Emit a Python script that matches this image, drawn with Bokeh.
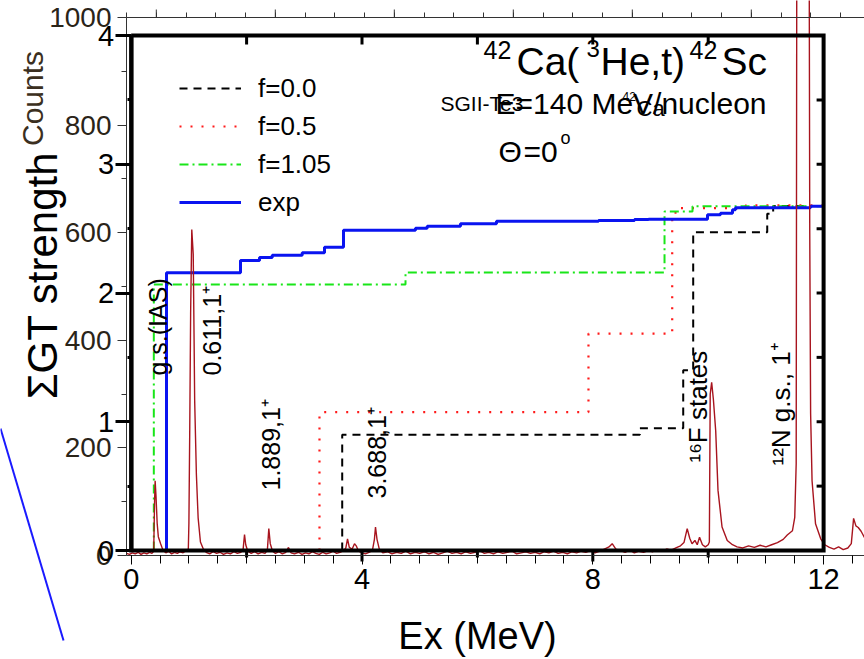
import math
from bokeh.plotting import figure
from bokeh.models import Range1d, LinearAxis, FixedTicker, Label, Legend, LegendItem
from bokeh.embed import file_html
from bokeh.resources import INLINE

# ---------------- data ----------------
# measured spectrum (counts vs excitation energy)
spec_e = [-0.08, -0.03, 0.02, 0.07, 0.12, 0.17, 0.22, 0.27, 0.32, 0.36, 0.39, 0.405, 0.415, 0.43, 0.45, 0.47,
          0.51, 0.55, 0.6, 0.65, 0.7, 0.75, 0.8, 0.85, 0.9, 0.95, 0.99, 1.0, 1.015, 1.03, 1.05, 1.075, 1.09, 1.1,
          1.13, 1.16, 1.2, 1.25, 1.3, 1.36, 1.42, 1.48, 1.54, 1.6, 1.66, 1.72, 1.78, 1.84, 1.9, 1.94, 1.964,
          1.985, 2.02, 2.08, 2.14, 2.2, 2.26, 2.32, 2.36, 2.385, 2.41, 2.45, 2.5, 2.56, 2.62, 2.68, 2.726, 2.77,
          2.83, 2.9, 2.96, 3.02, 3.08, 3.14, 3.2, 3.26, 3.32, 3.38, 3.44, 3.5, 3.56, 3.62, 3.68, 3.72, 3.749,
          3.78, 3.83, 3.87, 3.9, 3.94, 4.0, 4.06, 4.12, 4.18, 4.215, 4.234, 4.26, 4.3, 4.36, 4.44, 4.52, 4.6,
          4.68, 4.76, 4.84, 4.92, 5.0, 5.08, 5.16, 5.24, 5.32, 5.4, 5.48, 5.56, 5.64, 5.72, 5.8, 5.88, 5.96,
          6.04, 6.12, 6.2, 6.28, 6.36, 6.44, 6.52, 6.6, 6.68, 6.76, 6.84, 6.92, 7.0, 7.08, 7.16, 7.24, 7.32,
          7.4, 7.48, 7.56, 7.64, 7.72, 7.8, 7.88, 7.96, 8.04, 8.12, 8.2, 8.28, 8.336, 8.4, 8.48, 8.56, 8.64,
          8.72, 8.8, 8.88, 8.96, 9.04, 9.12, 9.2, 9.28, 9.36, 9.44, 9.52, 9.58, 9.636, 9.68, 9.72, 9.77, 9.81,
          9.85, 9.9, 9.95, 10.0, 10.02, 10.035, 10.06, 10.09, 10.13, 10.17, 10.24, 10.33, 10.42, 10.5, 10.6,
          10.7, 10.8, 10.9, 11.0, 11.1, 11.2, 11.3, 11.37, 11.46, 11.5, 11.525, 11.535, 11.55, 11.65, 11.745,
          11.76, 11.775, 11.8, 11.86, 11.95, 12.02, 12.1, 12.18, 12.26, 12.34, 12.42, 12.48, 12.52, 12.56,
          12.6, 12.65, 12.71]
spec_counts = [4, 2, 5, 3, 6, 2, 5, 3, 6, 4, 8, 100, 139, 110, 60, 35,
               22, 10, 5, 8, 3, 6, 4, 7, 5, 9, 12, 60, 238, 450, 606, 560, 400, 288,
               150, 70, 25, 12, 6, 3, 7, 4, 6, 2, 5, 3, 7, 4, 6, 12, 39,
               20, 8, 4, 7, 3, 6, 4, 10, 50, 22, 8, 4, 7, 3, 6, 15, 5,
               3, 6, 2, 5, 3, 7, 4, 2, 6, 3, 5, 8, 4, 6, 9, 14, 31,
               15, 12, 22, 18, 8, 5, 3, 6, 9, 30, 53, 30, 12, 5, 7, 3, 6,
               4, 8, 3, 6, 4, 7, 3, 6, 2, 5, 8, 4, 6, 3, 7, 4, 6,
               9, 4, 6, 3, 7, 4, 6, 8, 3, 5, 7, 4, 6, 3, 7, 5, 8,
               4, 6, 3, 7, 5, 8, 6, 9, 5, 8, 12, 16, 22, 12, 9, 6, 10,
               5, 8, 6, 9, 7, 11, 8, 12, 10, 14, 18, 24, 50, 32, 22, 28, 20,
               34, 20, 16, 20, 25, 300, 322, 290, 232, 121, 53, 28, 20, 16, 14,
               18, 15, 19, 16, 20, 24, 30, 38, 46, 71, 171, 1100, 1500, 1700, 1400,
               600, 264, 139, 59, 31, 20, 15, 12, 16, 11, 14, 22, 69, 55,
               52, 45, 33]

# running sum of GT strength: energy where each step starts, and value after the step
exp_e = [0.612, 1.894, 2.224, 2.444, 2.964, 3.350, 3.679, 4.927, 5.130, 5.707, 6.331, 8.099, 8.723,
         8.966, 9.988, 10.213, 10.421, 10.473, 11.773, 12.0]
exp_gt = [2.157, 2.252, 2.276, 2.293, 2.312, 2.356, 2.488, 2.503, 2.519, 2.537, 2.558, 2.563, 2.571,
          2.573, 2.607, 2.620, 2.646, 2.662, 2.674, 2.680]
f105_e = [0.392, 4.754, 9.243, 9.728, 12.0]
f105_gt = [2.066, 2.159, 2.633, 2.674, 2.680]
f05_e = [3.263, 7.925, 9.376, 9.52, 10.65, 12.0]
f05_gt = [1.074, 1.685, 2.625, 2.660, 2.680, 2.680]
f0_e = [3.657, 8.815, 9.567, 9.74, 11.023, 11.126, 12.0]
f0_gt = [0.899, 0.950, 1.400, 2.472, 2.615, 2.676, 2.676]

# stray blue stroke at the lower left of the picture (part of a neighbouring figure)
stray_e = [-2.265, -1.173]
stray_counts = [236, -158]

count_ticks = [0, 200, 400, 600, 800, 1000]
count_minor = [100, 300, 500, 700, 900]
gt_ticks = [0, 1, 2, 3, 4]
gt_minor = [0.5, 1.5, 2.5, 3.5]
ex_ticks = [0, 4, 8, 12]
ex_minor = [0.5 * i for i in range(26)]
top_long = [0, 1, 2, 3, 4, 5]
top_short = [0.25 * i for i in range(-1, 25)]
gt_box_e = [0, 12]
gt_box_v = [0, 4]
gt_edge_major = [4, 8]
gt_edge_minor = [2, 6, 10]
gt_right_ticks = [0.5, 1.0, 1.5, 2.0, 2.5, 3.0, 3.5]

# ---------------- layout constants ----------------
W, H = 864, 659
FL, FT, FB = 126, 17, 555          # counts-plot box left / top / bottom in px
X0PX, PXMEV = 130.7, 57.7          # px of Ex = 0, px per MeV
GT0PX, PXGT = 550.0, 128.75        # px of GT = 0, px per unit
CPX = (FB - FT) / 1000.0           # px per count
TOP0PX, TOPSTEP = 155.8, 119.0     # upper (counts-plot) axis tick spacing
FONT = "Liberation Sans"

def ex_at(px):
    return (px - X0PX) / PXMEV

def cnt_at(py):
    return (FB - py) / CPX

def gt_at(py):
    return (GT0PX - py) / PXGT

def top_at(px):
    return (px - TOP0PX) / TOPSTEP

# the plotting frame covers the whole canvas; axes sit at fixed data locations
p = figure(width=W, height=H, x_range=Range1d(ex_at(0), ex_at(W)), y_range=Range1d(cnt_at(H), cnt_at(0)),
           output_backend="svg", toolbar_location=None,
           x_axis_location=None, y_axis_location=None,
           min_border=0, min_border_left=0, min_border_right=0, min_border_top=0, min_border_bottom=0)
p.outline_line_color = None
p.grid.visible = False
p.background_fill_color = "white"
p.extra_y_ranges = {"gt": Range1d(gt_at(H), gt_at(0))}
p.extra_x_ranges = {"top": Range1d(top_at(0), top_at(W))}

# ---------------- axes ----------------
count_axis = LinearAxis(fixed_location=ex_at(FL), bounds=(0, 1000),
                        ticker=FixedTicker(ticks=count_ticks, minor_ticks=count_minor),
                        axis_line_color="#333333", axis_line_width=1,
                        major_tick_out=9, major_tick_in=0, minor_tick_out=5, minor_tick_in=0,
                        major_tick_line_color="#333333", minor_tick_line_color="#333333",
                        major_label_text_font=FONT, major_label_text_font_size="28px",
                        major_label_text_color="#2a2418", major_label_standoff=6)
p.add_layout(count_axis, "left")

gt_axis = LinearAxis(y_range_name="gt", fixed_location=0, bounds=(0, 4),
                     ticker=FixedTicker(ticks=gt_ticks, minor_ticks=gt_minor),
                     axis_line_width=4, axis_line_color="black",
                     major_tick_out=16, major_tick_in=0, major_tick_line_width=3,
                     minor_tick_out=4, minor_tick_in=0, minor_tick_line_width=3,
                     major_label_text_font=FONT, major_label_text_font_size="29px",
                     major_label_text_color="black", major_label_standoff=1)
p.add_layout(gt_axis, "left")

ex_axis = LinearAxis(fixed_location=0, bounds=(ex_at(FL), ex_at(W)),
                     ticker=FixedTicker(ticks=ex_ticks, minor_ticks=ex_minor),
                     axis_line_color="#333333", major_tick_out=9, major_tick_in=0,
                     minor_tick_out=8, minor_tick_in=0,
                     major_label_text_font=FONT, major_label_text_font_size="29px",
                     major_label_text_color="black", major_label_standoff=4)
p.add_layout(ex_axis, "below")

top_axis = LinearAxis(x_range_name="top", fixed_location=1000, bounds=(top_at(FL), top_at(W)),
                      ticker=FixedTicker(ticks=[], minor_ticks=top_short),
                      axis_line_color="#333333", minor_tick_out=5, minor_tick_in=0,
                      minor_tick_line_color="#333333")
p.add_layout(top_axis, "above")
p.ray(x=top_long, y=[1000] * len(top_long), x_range_name="top", length=8, length_units="screen",
      angle=math.pi / 2, line_color="#333333", line_width=1)

# ---------------- GT step curves ----------------
def steps(e, v):
    return [e[0]] + list(e), [0.0] + list(v)

sx, sy = steps(f0_e, f0_gt)
r_f0 = p.step(sx, sy, mode="after", y_range_name="gt", line_color="black", line_width=2, line_dash="8 6")
sx, sy = steps(f05_e, f05_gt)
r_f05 = p.step(sx, sy, mode="after", y_range_name="gt", line_color="#ff1a1a", line_width=2.2, line_dash="2 9")
sx, sy = steps(f105_e, f105_gt)
r_f105 = p.step(sx, sy, mode="after", y_range_name="gt", line_color="#19e619", line_width=2, line_dash="9 4 2 4")
sx, sy = steps(exp_e, exp_gt)
r_exp = p.step(sx, sy, mode="after", y_range_name="gt", line_color="#0a14f0", line_width=3)

# ---------------- spectrum ----------------
p.line(spec_e, spec_counts, line_color="#a8141e", line_width=1.4)
p.line(stray_e, stray_counts, line_color="#1a1aff", line_width=2)

# ---------------- GT frame ----------------
p.line([gt_box_e[0], gt_box_e[1], gt_box_e[1], gt_box_e[0], gt_box_e[0]],
       [gt_box_v[1], gt_box_v[1], gt_box_v[0], gt_box_v[0], gt_box_v[1]],
       y_range_name="gt", line_color="black", line_width=4, line_join="miter")
p.ray(x=gt_edge_major, y=[gt_box_v[0]] * len(gt_edge_major), length=11, length_units="screen",
      angle=-math.pi / 2, y_range_name="gt", line_color="black", line_width=3)
p.ray(x=gt_edge_minor, y=[gt_box_v[0]] * len(gt_edge_minor), length=7, length_units="screen",
      angle=-math.pi / 2, y_range_name="gt", line_color="black", line_width=3)
p.ray(x=gt_edge_major + gt_edge_minor, y=[gt_box_v[1]] * 5, length=9, length_units="screen",
      angle=-math.pi / 2, y_range_name="gt", line_color="black", line_width=3)
p.ray(x=[gt_box_e[1]] * len(gt_right_ticks), y=gt_right_ticks, length=7, length_units="screen",
      angle=math.pi, y_range_name="gt", line_color="black", line_width=3)

# ---------------- legend ----------------
legend = Legend(items=[LegendItem(label="f=0.0", renderers=[r_f0]),
                       LegendItem(label="f=0.5", renderers=[r_f05]),
                       LegendItem(label="f=1.05", renderers=[r_f105]),
                       LegendItem(label="exp", renderers=[r_exp])],
                location=(179, H - 221), orientation="vertical",
                border_line_alpha=0, background_fill_alpha=0, padding=0, margin=0, spacing=0,
                glyph_width=62, glyph_height=38, label_height=38, label_standoff=17,
                label_text_font=FONT, label_text_font_size="26px", label_text_color="black")
p.add_layout(legend)

# ---------------- texts ----------------
def txt(px, py, s, size, align="left", baseline="middle", angle=0.0, color="black", font=FONT):
    p.add_layout(Label(x=ex_at(px), y=cnt_at(py), text=s, text_font=font, text_font_size=size,
                       text_align=align, text_baseline=baseline, angle=angle, text_color=color))

# reaction title (y = vertical centre of the capitals)
txt(483, 49, "42", "25px")
txt(516, 61, "Ca(", "39px")
txt(586, 48, "3", "24px")
txt(600, 61, "He,t)", "39px")
txt(689, 49, "42", "25px")
txt(721, 61, "Sc", "39px")
txt(440, 103, "SGII-Te3", "21px")
txt(495, 103, "E=140 MeV/nucleon", "30px")
txt(622, 96, "42", "12px")
txt(636, 108, "Ca", "22px")
txt(498, 151, "\u0398", "30px")
txt(523, 151, "=0", "30px")
txt(560, 137, "o", "18px")

# axis titles
txt(32, 98, "Counts", "30px", align="center", angle=math.pi / 2, color="#3b2f20")
txt(42, 275, "\u03a3GT strength", "42px", align="center", angle=math.pi / 2)
txt(477, 635, "Ex (MeV)", "38px", align="center")

# state labels (rotated)
rot = math.pi / 2
txt(157, 375, "g.s.(IAS)", "25px", angle=rot)
txt(211, 375, "0.611,1\u207a", "25px", angle=rot)
txt(270, 490, "1.889,1\u207a", "25px", angle=rot)
txt(376, 498, "3.688,1\u207a", "25px", angle=rot)
txt(697, 462, "\u00b9\u2076F states", "26px", angle=rot)
txt(780, 465, "\u00b9\u00b2N g.s., 1\u207a", "26px", angle=rot)

open("out.html", "w").write(file_html(p, INLINE))
